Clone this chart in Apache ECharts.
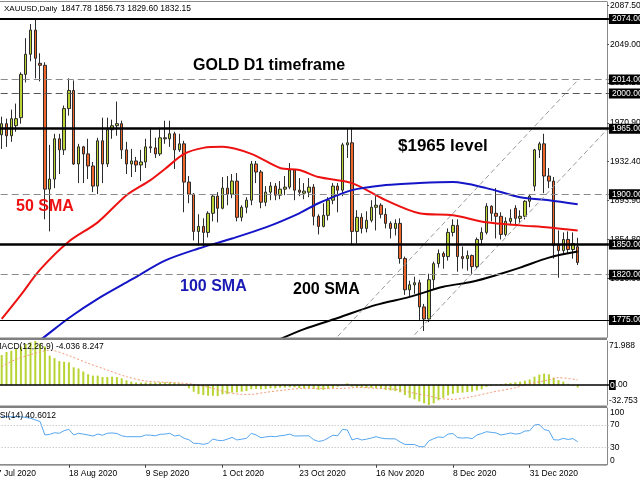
<!DOCTYPE html>
<html><head><meta charset="utf-8">
<script src="https://cdn.jsdelivr.net/npm/echarts@6/dist/echarts.min.js"></script>
<style>html,body{margin:0;padding:0;background:#fff}#c{width:640px;height:480px}</style>
</head><body><div id="c"></div><script>
// ---------- DATA ----------
const categories = [
'27 Jul 2020','28 Jul 2020','29 Jul 2020','30 Jul 2020','31 Jul 2020',
'3 Aug 2020','4 Aug 2020','5 Aug 2020','6 Aug 2020','7 Aug 2020','10 Aug 2020','11 Aug 2020','12 Aug 2020','13 Aug 2020','14 Aug 2020','17 Aug 2020','18 Aug 2020','19 Aug 2020','20 Aug 2020','21 Aug 2020','24 Aug 2020','25 Aug 2020','26 Aug 2020','27 Aug 2020','28 Aug 2020','31 Aug 2020',
'1 Sep 2020','2 Sep 2020','3 Sep 2020','4 Sep 2020','7 Sep 2020','8 Sep 2020','9 Sep 2020','10 Sep 2020','11 Sep 2020','14 Sep 2020','15 Sep 2020','16 Sep 2020','17 Sep 2020','18 Sep 2020','21 Sep 2020','22 Sep 2020','23 Sep 2020','24 Sep 2020','25 Sep 2020','28 Sep 2020','29 Sep 2020','30 Sep 2020',
'1 Oct 2020','2 Oct 2020','5 Oct 2020','6 Oct 2020','7 Oct 2020','8 Oct 2020','9 Oct 2020','12 Oct 2020','13 Oct 2020','14 Oct 2020','15 Oct 2020','16 Oct 2020','19 Oct 2020','20 Oct 2020','21 Oct 2020','22 Oct 2020','23 Oct 2020','26 Oct 2020','27 Oct 2020','28 Oct 2020','29 Oct 2020','30 Oct 2020',
'2 Nov 2020','3 Nov 2020','4 Nov 2020','5 Nov 2020','6 Nov 2020','9 Nov 2020','10 Nov 2020','11 Nov 2020','12 Nov 2020','13 Nov 2020','16 Nov 2020','17 Nov 2020','18 Nov 2020','19 Nov 2020','20 Nov 2020','23 Nov 2020','24 Nov 2020','25 Nov 2020','26 Nov 2020','27 Nov 2020','30 Nov 2020',
'1 Dec 2020','2 Dec 2020','3 Dec 2020','4 Dec 2020','7 Dec 2020','8 Dec 2020','9 Dec 2020','10 Dec 2020','11 Dec 2020','14 Dec 2020','15 Dec 2020','16 Dec 2020','17 Dec 2020','18 Dec 2020','21 Dec 2020','22 Dec 2020','23 Dec 2020','24 Dec 2020','28 Dec 2020','29 Dec 2020','30 Dec 2020','31 Dec 2020',
'4 Jan 2021','5 Jan 2021','6 Jan 2021','7 Jan 2021','8 Jan 2021','11 Jan 2021','12 Jan 2021','13 Jan 2021','14 Jan 2021','15 Jan 2021',
'18 Jan 2021','19 Jan 2021','20 Jan 2021','21 Jan 2021','22 Jan 2021','25 Jan 2021'];
const dateTicks = ['27 Jul 2020','18 Aug 2020','9 Sep 2020','1 Oct 2020','23 Oct 2020','16 Nov 2020','8 Dec 2020','31 Dec 2020'];
const firstBar = '29 Jul 2020';

const opens = [1959,1970,1958,1968,1976,2019,2039,2063,2030,2028,
1905,1915,1955,1944,1985,2003,1930,1947,1940,1928,
1908,1953,1930,1964,1968,1970,1944,1930,1933,1929,
1932,1947,1946,1940,1956,1955,1960,1944,1950,1912,
1900,1863,1868,1862,1881,1898,1886,1906,1900,1913,
1877,1887,1894,1930,1922,1892,1902,1908,1899,1905,
1907,1924,1904,1901,1902,1907,1878,1868,1879,1894,
1908,1904,1949,1951,1863,1877,1866,1874,1887,1889,
1880,1871,1866,1871,1836,1805,1810,1812,1788,1776,
1815,1831,1841,1838,1862,1869,1838,1836,1839,1828,
1855,1862,1888,1881,1878,1860,1873,1886,1876,1878,
1893,1908,1944,1950,1918,1913,1849,1844,1855,1845,1847.78];
const highs = [1977,1975,1984,1990,2021,2055,2069,2075,2040,2031,
1949,1960,1960,1988,2015,2013,1950,1948,1955,1932,
1956,1976,1976,1974,1992,1973,1952,1945,1937,1944,
1955,1966,1956,1966,1973,1973,1962,1960,1953,1918,
1901,1880,1876,1883,1900,1902,1917,1918,1920,1921,
1889,1897,1933,1933,1924,1908,1912,1911,1913,1918,
1931,1925,1916,1911,1916,1910,1880,1891,1897,1911,
1911,1951,1965,1966,1884,1881,1883,1894,1898,1891,
1886,1873,1875,1876,1838,1814,1818,1815,1791,1821,
1833,1845,1843,1866,1875,1875,1848,1844,1840,1857,
1867,1891,1889,1906,1882,1877,1885,1889,1884,1894,
1900,1945,1952,1960,1926,1917,1864,1862,1863,1862,1856.73];
const lows = [1945,1947,1952,1962,1970,2011,2032,2015,2012,1875,
1863,1906,1920,1939,1978,1929,1911,1911,1915,1902,
1900,1911,1927,1955,1958,1935,1920,1917,1922,1913,
1926,1941,1936,1938,1950,1947,1925,1942,1882,1891,
1854,1849,1848,1857,1873,1872,1885,1889,1896,1873,
1873,1881,1889,1911,1886,1888,1894,1894,1895,1899,
1905,1894,1898,1895,1897,1869,1860,1867,1874,1890,
1882,1898,1936,1850,1851,1861,1862,1872,1864,1876,
1866,1856,1859,1831,1800,1798,1801,1775,1764,1773,
1805,1827,1826,1834,1858,1823,1826,1824,1820,1826,
1849,1860,1873,1856,1855,1858,1869,1870,1871,1875,
1887,1903,1936,1901,1906,1836,1817,1840,1841,1836,1829.60];
const closes = [1970,1958,1975,1975,2019,2039,2063,2035,2028,1905,
1915,1955,1944,1985,2003,1930,1947,1940,1928,1908,
1953,1930,1964,1968,1970,1944,1930,1933,1929,1932,
1947,1946,1940,1956,1955,1960,1944,1950,1912,1900,
1863,1868,1862,1881,1898,1886,1906,1900,1913,1877,
1887,1894,1930,1922,1892,1902,1908,1899,1905,1907,
1924,1904,1902,1903,1907,1878,1868,1879,1894,1908,
1904,1949,1951,1863,1877,1866,1874,1887,1889,1880,
1871,1866,1871,1836,1805,1810,1812,1788,1776,1815,
1831,1841,1838,1862,1869,1838,1836,1839,1828,1855,
1862,1888,1881,1878,1860,1873,1876,1876,1878,1893,
1898,1944,1950,1918,1913,1849,1844,1855,1845,1851,1832.15];

// moving averages: [bar index from 29 Jul, price]
const sma50 = [[0,1776],[4,1800],[8,1825],[14,1853],[20,1872],[26,1899],[31,1914],[34,1925],[38,1940],[42,1946],[46,1947],[52,1940],[58,1926],[62,1924],[66,1917],[73,1911],[80,1894],[87,1881],[94,1879],[101,1872],[108,1869],[114,1867],[120,1864]];
const sma100 = [[4,1742],[8,1755],[14,1777],[20,1796],[27,1815],[34,1834],[41,1846],[48,1856],[55,1867],[62,1881],[66,1891],[73,1904],[80,1909],[87,1911],[94,1912],[101,1906],[108,1897],[114,1894],[120,1890]];
const sma200 = [[57,1754],[63,1766],[70,1777],[78,1790],[85,1798],[92,1808],[98,1813],[104,1821],[108,1827],[114,1837],[120,1843]];
const channelUpper = [[70,1758.8],[120,2013.1]];
const channelLower = [[86,1760.3],[126,1963.7]];

const priceTicks = [2087.5,2049,2010.5,1970.9,1932.4,1893.9,1854.8,1816.3];
const levels = [2074,2014,2000,1965,1900,1850,1820,1775];
const lastPrice = 1832.15;

const macdHist = [49,54,56,59,63,67,70,71.988,68,63,
48,44,39,38,37,29,27,22,17.5,15.3,
15.3,13,13,13.6,13,11,7.6,5.5,4,4,
4,4,4,4.4,4.4,4.4,4,2.7,-0.5,-5.5,
-11,-15,-16.5,-17.5,-17.5,-18,-15.3,-15,-12.5,-12,
-11,-10,-7,-6.5,-7,-6.5,-5.5,-5.5,-4.4,-4.2,
-3.8,-4,-5,-5.5,-5.5,-6.5,-8,-8,-6.5,-5,
-2.7,-0.5,2.7,-2.7,-3.5,-4.4,-5,-5,-5.5,-6,
-8,-9,-10,-12,-16.5,-21,-23.5,-27,-30,-32.753,
-30,-25,-21,-17,-14.5,-13,-12.5,-11.5,-11,-9,
-7,-3,-1.5,1,1.5,2.5,3.5,4.5,5.5,7,
9,13.6,17,18.5,17.5,12,8,5.5,2,-1.5,-4.036];
const macdSignal = [[0,30],[3,42],[7,52],[10,57],[14,48],[18,35.5],[22,24.5],[26,13.6],[30,6.5],[36,3.8],[40,1.1],[44,-5.5],[47,-12],[50,-15.3],[52,-15.3],[55,-12],[59,-8.2],[63,-5.5],[67,-5.5],[71,-5.5],[74,-4],[78,-5.5],[82,-7],[86,-13.6],[89,-18],[91,-21.8],[94,-23.5],[98,-19],[102,-12],[107,-4.5],[109,0.5],[114,8.2],[116,12],[120,8.247]];
const macdTicks = [-32.753,0,71.988];

const rsi = [[0,84.6],[4,84.6],[6,82],[8,76],[9,52.4],[10,53.6],[11,56.4],[12,55.4],[13,60],[14,62.4],[15,52.4],[16,55.4],[17,54],[18,52.4],[19,50.6],[20,54],[21,52],[22,55.4],[23,56],[24,55],[25,51],[26,49.4],[29,49.4],[30,52.4],[31,52],[32,51],[33,53.6],[34,54],[35,55.4],[36,50.6],[37,52],[38,46.5],[39,44],[40,37.7],[41,37.5],[42,35.9],[43,37.7],[44,45.3],[45,43],[46,42.4],[47,45],[48,48.2],[49,43.6],[50,45],[51,46.5],[52,55.4],[53,52.4],[54,47.6],[55,49],[56,50],[57,49.4],[58,51],[59,52],[60,54],[61,50.6],[64,51],[65,44],[66,41],[67,42.5],[68,47],[69,52],[70,51],[71,62.4],[72,61.2],[73,43.6],[74,46.5],[75,43.6],[76,45],[77,47],[78,49.4],[79,47],[80,45.9],[82,45.5],[83,40],[84,35.9],[86,35.5],[87,32],[88,31.5],[89,42],[90,45.9],[91,49],[92,48],[93,54],[94,55],[95,47.6],[96,47],[97,47.6],[98,45.9],[99,52.4],[100,55],[101,58.2],[102,57],[103,56],[104,52.4],[105,54],[106,56],[107,54],[108,55],[109,59.4],[110,60],[111,70],[112,71],[113,62],[114,60],[115,44],[116,43.6],[117,46.5],[118,44.5],[119,46],[120,40.6012]];
const rsiTicks = [0,30,70,100];
const rsiLevels = [70,30];

// ---------- BUILD ----------
const OFF = categories.indexOf(firstBar);
const NCAT = categories.length;
const BW = 4.8, GL = -10.3, GW = BW*NCAT;
const FONT = '"Liberation Sans", Arial, sans-serif';
const tail = n => Array(n).fill('-');
const candleData = opens.map((o,i)=>[o, closes[i], lows[i], highs[i]]);
const candles = tail(OFF).concat(candleData, tail(NCAT-OFF-candleData.length));
const histData = tail(OFF).concat(macdHist, tail(NCAT-OFF-macdHist.length));
const shift = arr => arr.map(p=>[p[0]+OFF, p[1]]);
const showTick = idx => dateTicks.indexOf(categories[idx]) >= 0;

const levelStyle = {
  2074:{width:2,type:'solid',color:'#000'},
  2014:{width:1,type:[7,4],color:'#8a8a8a'},
  2000:{width:1,type:[7,4],color:'#555'},
  1965:{width:2.5,type:'solid',color:'#000'},
  1900:{width:1,type:[7,4],color:'#8a8a8a'},
  1850:{width:2.5,type:'solid',color:'#000'},
  1820:{width:1,type:[7,4],color:'#8a8a8a'},
  1775:{width:1,type:'solid',color:'#000'}
};
const boxLabel = {show:true, position:'end', distance:0, color:'#fff', backgroundColor:'#000',
  fontSize:8.5, fontFamily:FONT, padding:[1,3,0,3], lineHeight:9,
  formatter: p => Number(p.value).toFixed(2)};
const levelLines = levels.map(v=>({yAxis:v, lineStyle:levelStyle[v], label:boxLabel}));
levelLines.push({yAxis:lastPrice, lineStyle:{opacity:0,width:0}, label:boxLabel});

const last = opens.length-1;
const header = 'XAUUSD,Daily';
const headerVals = [opens[last],highs[last],lows[last],closes[last]].map(v=>v.toFixed(2)).join(' ');
const macdText = 'MACD(12,26,9) ' + macdHist[macdHist.length-1].toFixed(3) + ' ' + macdSignal[macdSignal.length-1][1].toFixed(3);
const rsiText = 'RSI(14) ' + rsi[rsi.length-1][1].toFixed(4);

const chart = echarts.init(document.getElementById('c'), null, {renderer:'canvas'});
const yBase = {type:'value', position:'right', offset:-1.9,
  axisLine:{show:true, lineStyle:{color:'#8a8a8a', width:1}},
  splitLine:{show:false}};
const gridBase = {outerBoundsMode:'none', containLabel:false};
chart.setOption({
  animation:false,
  backgroundColor:'#fff',
  grid:[
    Object.assign({left:GL, top:2, width:GW, height:335.5}, gridBase),
    Object.assign({left:GL, top:341, width:GW, height:64}, gridBase),
    Object.assign({left:GL, top:408, width:GW, height:56.7}, gridBase)
  ],
  xAxis:[
    {type:'category', gridIndex:0, data:categories, boundaryGap:true, show:false},
    {type:'category', gridIndex:1, data:categories, boundaryGap:true, show:false},
    {type:'category', gridIndex:2, data:categories, boundaryGap:true,
     axisLine:{show:false},
     axisTick:{show:true, alignWithLabel:true, interval:showTick, length:3, lineStyle:{color:'#333'}},
     axisLabel:{interval:showTick, align:'left', fontSize:8.5, fontFamily:FONT, color:'#000', margin:4, hideOverlap:false}}
  ],
  yAxis:[
    Object.assign({}, yBase, {gridIndex:0, min:1757.62, max:2090.89,
      axisTick:{show:true, customValues:priceTicks, length:2, lineStyle:{color:'#555'}},
      axisLabel:{customValues:priceTicks, formatter:v=>v.toFixed(2), fontSize:8.5, fontFamily:FONT, color:'#000', margin:3}}),
    Object.assign({}, yBase, {gridIndex:1, min:-32.753, max:71.988,
      axisTick:{show:false},
      axisLabel:{customValues:macdTicks, fontSize:8.5, fontFamily:FONT, color:'#000', margin:2,
        verticalAlignMinLabel:'bottom', verticalAlignMaxLabel:'top',
        formatter:v=> v===0 ? '{z|0}{n|.00}' : v.toFixed(3),
        rich:{z:{backgroundColor:'#000', color:'#fff', fontSize:8.5, fontFamily:FONT, padding:[1,1,0,1]},
              n:{color:'#000', fontSize:8.5, fontFamily:FONT}}}}),
    Object.assign({}, yBase, {gridIndex:2, min:0, max:100,
      axisTick:{show:false},
      axisLabel:{customValues:rsiTicks, fontSize:8.5, fontFamily:FONT, color:'#000', margin:3,
        verticalAlignMinLabel:'bottom', verticalAlignMaxLabel:'top', formatter:v=>String(v)}})
  ],
  series:[
    {type:'candlestick', xAxisIndex:0, yAxisIndex:0, data:candles, barWidth:3,
     itemStyle:{color:'#b9d332', color0:'#f0652a', borderColor:'#2b2b2b', borderColor0:'#2b2b2b', borderWidth:1},
     markLine:{silent:true, symbol:['none','none'], data:levelLines}},
    {type:'line', xAxisIndex:0, yAxisIndex:0, data:shift(sma50), showSymbol:false, smooth:0.3,
     lineStyle:{color:'#ee1111', width:2}},
    {type:'line', xAxisIndex:0, yAxisIndex:0, data:shift(sma100), showSymbol:false, smooth:0.3,
     lineStyle:{color:'#1515c8', width:2}},
    {type:'line', xAxisIndex:0, yAxisIndex:0, data:shift(sma200), showSymbol:false, smooth:0.3,
     lineStyle:{color:'#000', width:2}},
    {type:'line', xAxisIndex:0, yAxisIndex:0, data:shift(channelUpper), showSymbol:false,
     lineStyle:{color:'#9a9a9a', width:1, type:[5,3]}},
    {type:'line', xAxisIndex:0, yAxisIndex:0, data:shift(channelLower), showSymbol:false,
     lineStyle:{color:'#9a9a9a', width:1, type:[5,3]}},
    {type:'bar', xAxisIndex:1, yAxisIndex:1, data:histData, barWidth:2,
     itemStyle:{color:'#b8d432'},
     markLine:{silent:true, symbol:['none','none'], label:{show:false},
       data:[{yAxis:0, lineStyle:{color:'#000', width:1.5, type:'solid'}}]}},
    {type:'line', xAxisIndex:1, yAxisIndex:1, data:shift(macdSignal), showSymbol:false, smooth:0.3,
     lineStyle:{color:'#f39a78', width:1, type:[2,2]}},
    {type:'line', xAxisIndex:2, yAxisIndex:2, data:shift(rsi), showSymbol:false,
     lineStyle:{color:'#55a6f0', width:1},
     markLine:{silent:true, symbol:['none','none'], label:{show:false},
       data:rsiLevels.map(v=>({yAxis:v, lineStyle:{color:'#b5b5b5', width:1, type:[1,2]}}))}}
  ],
  graphic:[
    {type:'rect', z:50, shape:{x:0,y:1,width:607,height:1}, style:{fill:'#8a8a8a'}},
    {type:'rect', z:50, shape:{x:0,y:337.5,width:607,height:2.5}, style:{fill:'#808080'}},
    {type:'rect', z:50, shape:{x:0,y:405.5,width:607,height:2.5}, style:{fill:'#808080'}},
    {type:'rect', z:50, shape:{x:0,y:464.2,width:607,height:1.2}, style:{fill:'#666'}},
    {type:'text', z:60, x:4, y:8.5, style:{text:header, font:'8px '+FONT, fill:'#000', verticalAlign:'middle'}},
    {type:'text', z:60, x:61, y:8.5, style:{text:headerVals, font:'8.5px '+FONT, fill:'#000', verticalAlign:'middle'}},
    {type:'text', z:60, x:-5.5, y:347, style:{text:macdText, font:'8.5px '+FONT, fill:'#000', verticalAlign:'middle'}},
    {type:'text', z:60, x:-6.3, y:415.5, style:{text:rsiText, font:'8.5px '+FONT, fill:'#000', verticalAlign:'middle'}},
    {type:'text', z:60, x:193, y:66, style:{text:'GOLD D1 timeframe', font:'bold 16px '+FONT, fill:'#000', verticalAlign:'middle'}},
    {type:'text', z:60, x:398, y:146, style:{text:'$1965 level', font:'bold 17px '+FONT, fill:'#000', verticalAlign:'middle'}},
    {type:'text', z:60, x:16, y:207, style:{text:'50 SMA', font:'bold 16px '+FONT, fill:'#ee1111', verticalAlign:'middle'}},
    {type:'text', z:60, x:180, y:287, style:{text:'100 SMA', font:'bold 16px '+FONT, fill:'#1a1ab4', verticalAlign:'middle'}},
    {type:'text', z:60, x:293, y:290, style:{text:'200 SMA', font:'bold 16px '+FONT, fill:'#000', verticalAlign:'middle'}}
  ]
});
</script></body></html>
